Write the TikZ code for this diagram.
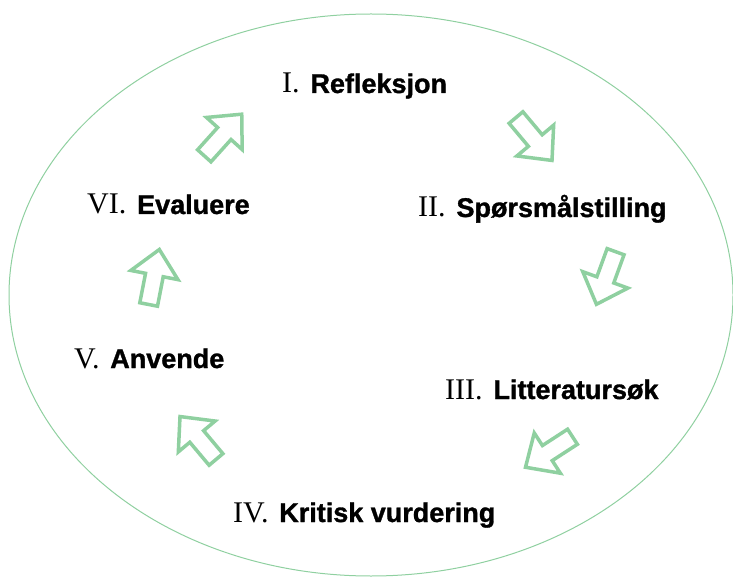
\documentclass[tikz,border=0pt]{standalone}
\usepackage{fontspec}
\setmainfont{Liberation Serif}
\setsansfont[BoldFeatures={FakeBold=1.2}]{Liberation Sans}
\usetikzlibrary{positioning}
\definecolor{leafgreen}{RGB}{143,208,160}
\newcommand{\stepnum}[1]{{\rmfamily\mdseries\fontsize{30}{32}\selectfont #1.}\hspace{0.4em}}
\tikzset{stage/.style={inner sep=0pt,anchor=base west,font=\fontsize{27}{30}\selectfont\sffamily\bfseries},
         ring/.style={draw=leafgreen,line width=1pt},
         blockarrow/.style={draw=leafgreen,line width=3.5pt,fill=white,line join=miter,miter limit=10}}

\begin{document}
\begin{tikzpicture}[x=1pt,y=-1pt]
    \useasboundingbox (0,0) rectangle (733,577);
    \draw[ring] (371,295) ellipse [x radius=362, y radius=281];
    % stages
    \node[stage] (refl)  at (282,93)  {\stepnum{I}Refleksjon};
    \node[stage] (quest) at (418,217) {\stepnum{II}Spørsmålstilling};
    \node[stage] (lit)   at (445,399) {\stepnum{III}Litteratursøk};
    \node[stage] (crit)  at (233,522) {\stepnum{IV}Kritisk vurdering};
    \node[stage] (apply) at (74,368)  {\stepnum{V}Anvende};
    \node[stage] (eval)  at (87,214)  {\stepnum{VI}Evaluere};
    % arrows between stages
    \foreach \x/\y/\a in {534/139/-50, 606/278/-110, 549/452/-147, 198/438/130, 154/277/79, 223/135/48}
      \draw[blockarrow,shift={(\x,\y)},rotate=\a] (-28,-9) -- (2,-9) -- (2,-24) -- (28,0) -- (2,24) -- (2,9) -- (-28,9) -- cycle;
\end{tikzpicture}
\end{document}
